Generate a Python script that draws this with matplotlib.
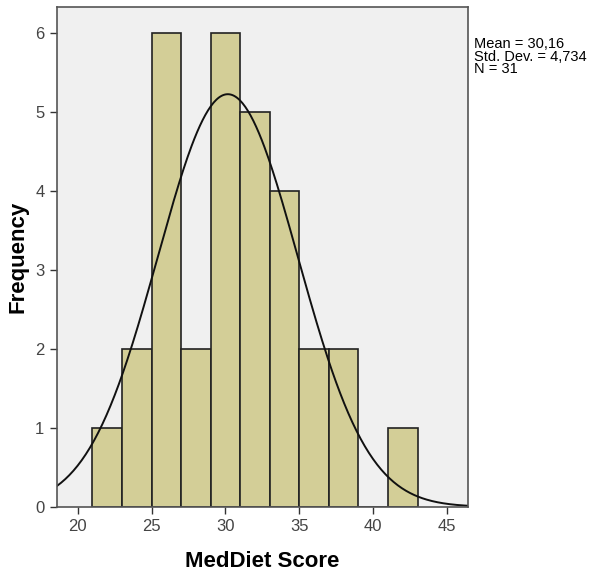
import numpy as np
import matplotlib.pyplot as plt

plt.rcParams['font.family'] = ['Liberation Sans', 'DejaVu Sans']

# histogram bins (width 2) and counts
bin_edges = [21, 23, 25, 27, 29, 31, 33, 35, 37, 39, 41, 43]
counts = [1, 2, 6, 2, 6, 5, 4, 2, 2, 0, 1]
mean, sd, n = 30.16, 4.734, 31
xticks = [20, 25, 30, 35, 40, 45]
yticks = [0, 1, 2, 3, 4, 5, 6]

fig = plt.figure(figsize=(6.06, 5.76), dpi=100)
ax = fig.add_axes([0.094, 0.12, 0.678, 0.868])
ax.set_facecolor('#f0f0f0')

widths = np.diff(bin_edges)
ax.bar(bin_edges[:-1], counts, width=widths, align='edge',
       color='#d3ce97', edgecolor='#222222', linewidth=1.2)

# normal curve scaled to counts
xs = np.linspace(18.6, 46.4, 300)
bw = widths[0]
ys = n * bw / (sd * np.sqrt(2 * np.pi)) * np.exp(-0.5 * ((xs - mean) / sd) ** 2)
ax.plot(xs, ys, color='#111111', linewidth=1.4)

ax.set_xlim(18.6, 46.4)
ax.set_ylim(0, 6.33)
ax.set_xticks(xticks)
ax.set_yticks(yticks)
ax.tick_params(direction='out', length=5, width=1, colors='#333333',
               labelsize=12, labelcolor='#444444', pad=4)
for s in ax.spines.values():
    s.set_color('#555555')
    s.set_linewidth(1.2)

ax.set_xlabel('MedDiet Score', fontsize=16, fontweight='bold', labelpad=12)
ax.set_ylabel('Frequency', fontsize=16, fontweight='bold', labelpad=5)

fig.text(0.782, 0.935, 'Mean = 30,16\nStd. Dev. = 4,734\nN = 31',
         fontsize=10.5, va='top', ha='left', linespacing=0.85)

fig.savefig('out.png', dpi=100, facecolor='white')
